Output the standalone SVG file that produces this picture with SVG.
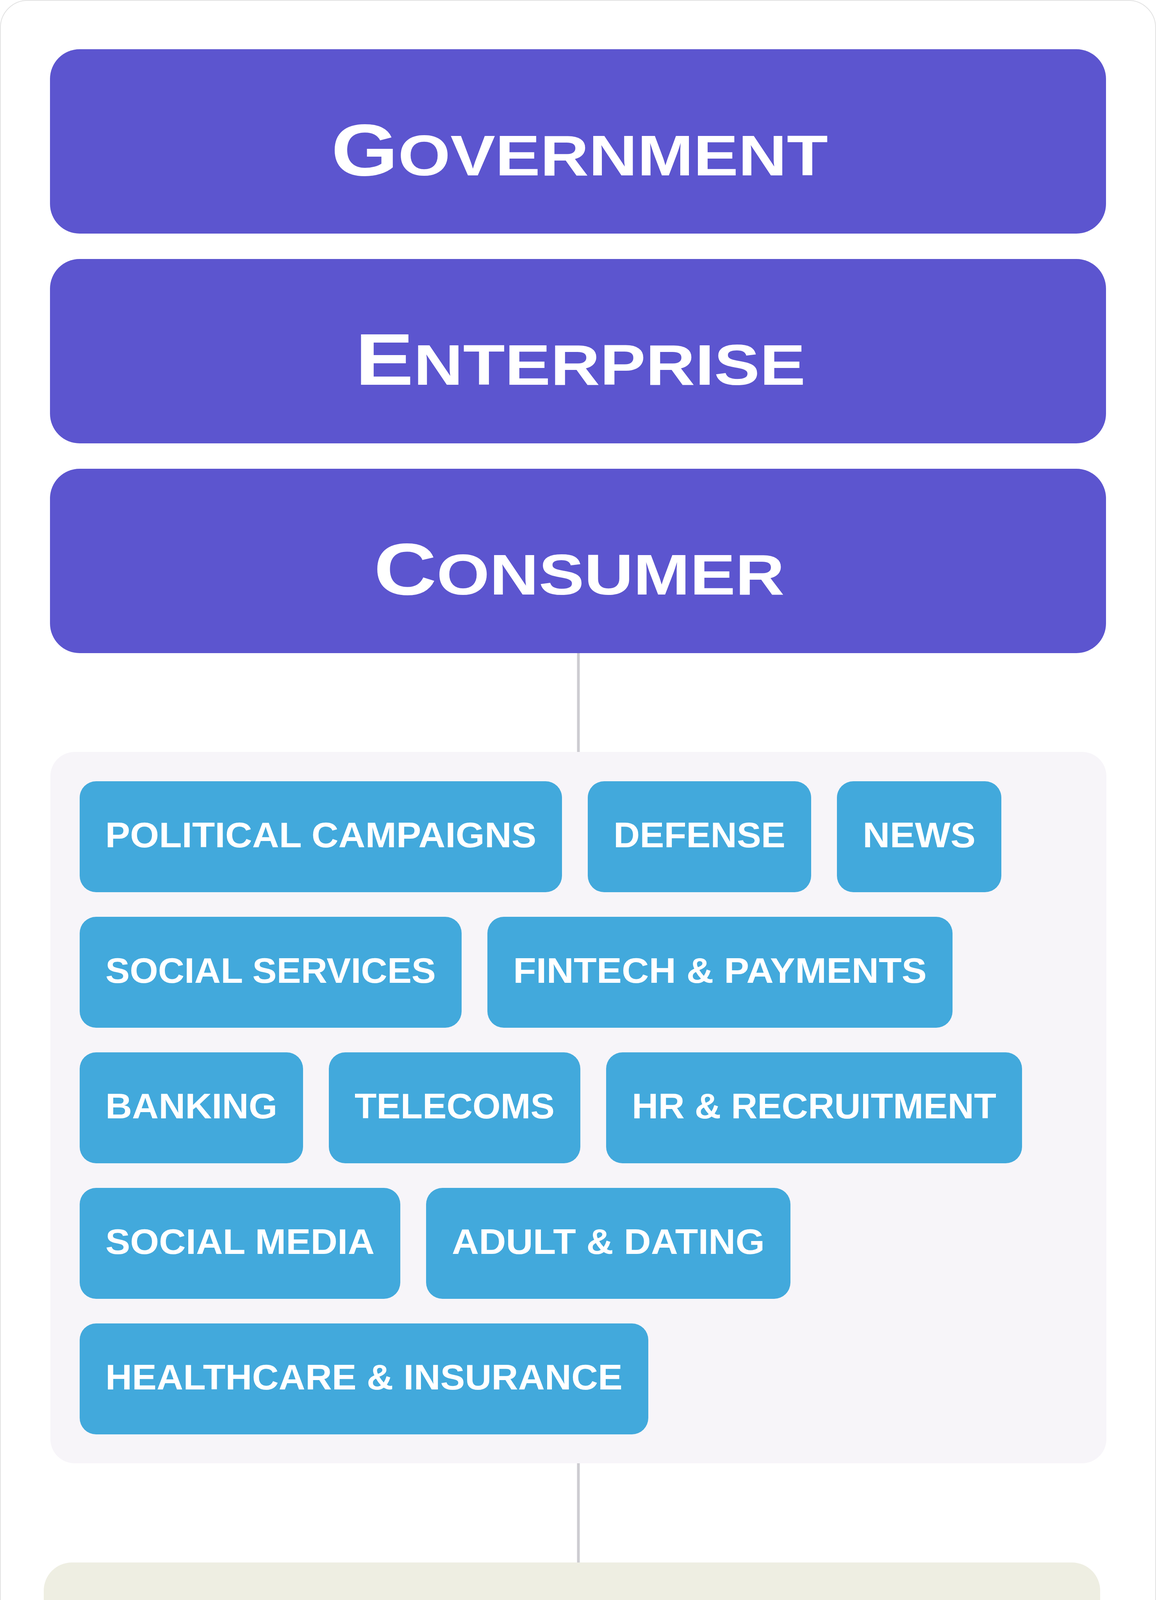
<svg xmlns="http://www.w3.org/2000/svg" width="2960" height="7614" viewBox="0 0 2960 7614">
<style>
.hdr{fill:#5C55CF}
.htxt{font-family:"Liberation Sans",Arial,sans-serif;font-weight:700;fill:#FFFFFF;text-anchor:middle}
.sc{font-variant-caps:small-caps;font-variant:small-caps}
.tag{fill:#42A9DC}
.ttxt{font-family:"Liberation Sans",Arial,sans-serif;font-weight:700;font-size:91px;fill:#FFFFFF;text-anchor:middle}
.btxt{font-family:"Liberation Sans",Arial,sans-serif;font-weight:700;font-size:120px;fill:#111111;text-anchor:middle}
.c1{fill:#EEEEE2}
.c2{fill:#E8E0EF}
.c3{fill:#DCEEF9}
.conn{stroke:#CDCCD1;stroke-width:7;fill:none}
</style>
<rect x="1" y="1" width="2958" height="7612" rx="70" ry="70" fill="#FFFFFF" stroke="#E2E2E2" stroke-width="2"/>

<g id="connectors">
<line class="conn" x1="1481" y1="1672" x2="1481" y2="1925"/>
<line class="conn" x1="1481" y1="3746" x2="1481" y2="4000"/>
</g>

<g id="government">
<rect class="hdr" x="128" y="126" width="2704" height="472" rx="76" ry="76"/>
<text class="htxt" x="1484" y="449" textLength="1272" lengthAdjust="spacingAndGlyphs"><tspan font-size="188">G</tspan><tspan class="sc" font-size="210">overnment</tspan></text>
</g>
<g id="enterprise">
<rect class="hdr" x="128" y="663" width="2704" height="472" rx="76" ry="76"/>
<text class="htxt" x="1486" y="985" textLength="1153" lengthAdjust="spacingAndGlyphs"><tspan font-size="188">E</tspan><tspan class="sc" font-size="210">nterprise</tspan></text>
</g>
<g id="consumer">
<rect class="hdr" x="128" y="1200" width="2704" height="472" rx="76" ry="76"/>
<text class="htxt" x="1483" y="1522" textLength="1052" lengthAdjust="spacingAndGlyphs"><tspan font-size="188">C</tspan><tspan class="sc" font-size="210">onsumer</tspan></text>
</g>

<g id="sectors">
<rect x="129" y="1925" width="2704" height="1821" rx="62" ry="62" fill="#F7F5F9"/>
<g id="tag-political">
<rect class="tag" x="204" y="2000" width="1235" height="284" rx="42" ry="42"/>
<text class="ttxt" x="821.5" y="2169" textLength="1104" lengthAdjust="spacingAndGlyphs">POLITICAL CAMPAIGNS</text>
</g>
<g id="tag-defense">
<rect class="tag" x="1505" y="2000" width="572" height="284" rx="42" ry="42"/>
<text class="ttxt" x="1791" y="2169" textLength="440" lengthAdjust="spacingAndGlyphs">DEFENSE</text>
</g>
<g id="tag-news">
<rect class="tag" x="2143" y="2000" width="421" height="284" rx="42" ry="42"/>
<text class="ttxt" x="2353.5" y="2169" textLength="289" lengthAdjust="spacingAndGlyphs">NEWS</text>
</g>
<g id="tag-social-services">
<rect class="tag" x="204" y="2347" width="978" height="284" rx="42" ry="42"/>
<text class="ttxt" x="693" y="2516" textLength="846" lengthAdjust="spacingAndGlyphs">SOCIAL SERVICES</text>
</g>
<g id="tag-fintech">
<rect class="tag" x="1248" y="2347" width="1191" height="284" rx="42" ry="42"/>
<text class="ttxt" x="1843.5" y="2516" textLength="1059" lengthAdjust="spacingAndGlyphs">FINTECH &amp; PAYMENTS</text>
</g>
<g id="tag-banking">
<rect class="tag" x="204" y="2694" width="572" height="284" rx="42" ry="42"/>
<text class="ttxt" x="490" y="2863" textLength="440" lengthAdjust="spacingAndGlyphs">BANKING</text>
</g>
<g id="tag-telecoms">
<rect class="tag" x="842" y="2694" width="644" height="284" rx="42" ry="42"/>
<text class="ttxt" x="1164" y="2863" textLength="512" lengthAdjust="spacingAndGlyphs">TELECOMS</text>
</g>
<g id="tag-hr">
<rect class="tag" x="1552" y="2694" width="1065" height="284" rx="42" ry="42"/>
<text class="ttxt" x="2084.5" y="2863" textLength="933" lengthAdjust="spacingAndGlyphs">HR &amp; RECRUITMENT</text>
</g>
<g id="tag-social-media">
<rect class="tag" x="204" y="3041" width="821" height="284" rx="42" ry="42"/>
<text class="ttxt" x="614.5" y="3210" textLength="689" lengthAdjust="spacingAndGlyphs">SOCIAL MEDIA</text>
</g>
<g id="tag-adult">
<rect class="tag" x="1091" y="3041" width="933" height="284" rx="42" ry="42"/>
<text class="ttxt" x="1557.5" y="3210" textLength="801" lengthAdjust="spacingAndGlyphs">ADULT &amp; DATING</text>
</g>
<g id="tag-healthcare">
<rect class="tag" x="204" y="3388" width="1456" height="284" rx="42" ry="42"/>
<text class="ttxt" x="932" y="3557" textLength="1324" lengthAdjust="spacingAndGlyphs">HEALTHCARE &amp; INSURANCE</text>
</g>
</g>

<g id="voice-video">
<rect class="c1" x="112" y="4000" width="2705" height="582" rx="72" ry="72"/>
<text class="btxt" x="1465" y="4246" textLength="2212" lengthAdjust="spacingAndGlyphs">Voice and video forensic analysis and</text>
<text class="btxt" x="1465" y="4406" textLength="694" lengthAdjust="spacingAndGlyphs">provenance</text>
</g>
<g id="scam">
<rect class="c2" x="112" y="4645" width="2705" height="415" rx="72" ry="72"/>
<text class="btxt" x="1465" y="4887" textLength="1998" lengthAdjust="spacingAndGlyphs">Scam and malicious link detection</text>
</g>
<g id="meeting-bots">
<rect class="c3" x="112" y="5124" width="2705" height="580" rx="72" ry="72"/>
<text class="btxt" x="1467" y="5372" textLength="2254" lengthAdjust="spacingAndGlyphs">Real-time meeting bots with deepfake</text>
<text class="btxt" x="1465" y="5533" textLength="1601" lengthAdjust="spacingAndGlyphs">detection and transcription</text>
</g>
<g id="ekyc">
<rect class="c1" x="112" y="5771" width="2705" height="580" rx="72" ry="72"/>
<text class="btxt" x="1465" y="6020" textLength="2364" lengthAdjust="spacingAndGlyphs">e-KYC, user onboarding and transaction</text>
<text class="btxt" x="1464" y="6180" textLength="652" lengthAdjust="spacingAndGlyphs">verification</text>
</g>
<g id="future-threat">
<rect class="c2" x="112" y="6417" width="2705" height="415" rx="72" ry="72"/>
<text class="btxt" x="1465" y="6661" textLength="1903" lengthAdjust="spacingAndGlyphs">Future threat response and R&amp;D</text>
</g>
<g id="reputation">
<rect class="c3" x="112" y="6896" width="2705" height="582" rx="72" ry="72"/>
<text class="btxt" x="1467" y="7140" textLength="2096" lengthAdjust="spacingAndGlyphs">Reputation management and social</text>
<text class="btxt" x="1464" y="7305" textLength="521" lengthAdjust="spacingAndGlyphs">scanning</text>
</g>
</svg>
